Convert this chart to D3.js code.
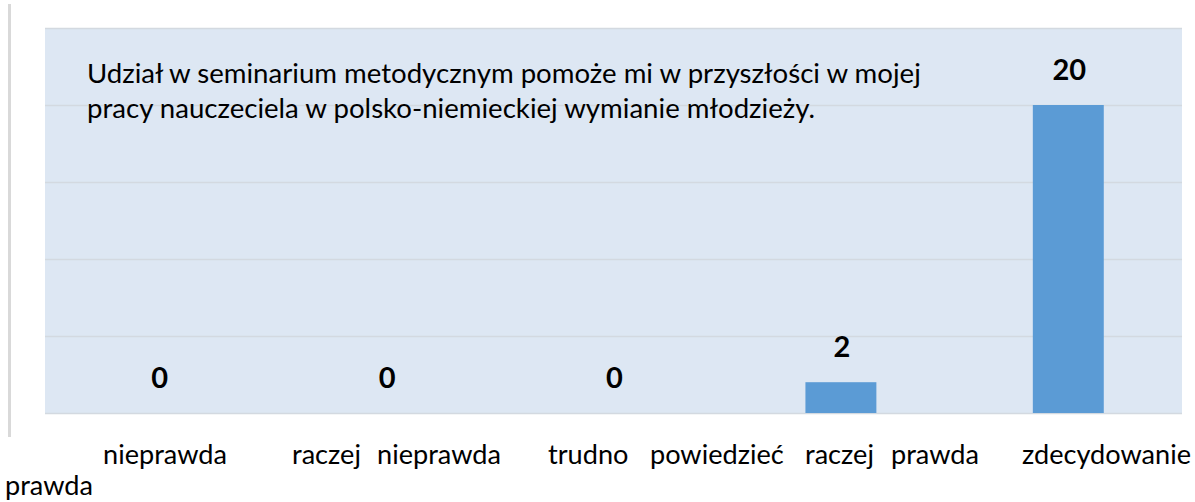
<!DOCTYPE html>
<html>
<head>
<meta charset="utf-8">
<script src="https://cdn.jsdelivr.net/npm/d3@7"></script>
<style>
  html, body { margin: 0; padding: 0; background: #ffffff; }
  svg { display: block; }
</style>
</head>
<body>
<svg id="chart" width="1195" height="502"></svg>
<script>
// ---- data ----
const categories = ["nieprawda", "raczej nieprawda", "trudno powiedzieć", "raczej prawda", "zdecydowanie prawda"];
const values = [0, 0, 0, 2, 20];
const yTicks = [0, 5, 10, 15, 20, 25];
const noteLines = [
  "Udział w seminarium metodycznym pomoże mi w przyszłości w mojej",
  "pracy nauczeciela w polsko-niemieckiej wymianie młodzieży."
];

// ---- layout ----
const W = 1195, H = 502;
const plot = { left: 45, right: 1182, top: 28, bottom: 413 };
const svg = d3.select("#chart");
const font = "Lato, 'Open Sans', sans-serif";

const x = d3.scaleBand().domain(categories).range([plot.left, plot.right]).paddingInner(0.688).paddingOuter(0.344);
const y = d3.scaleLinear().domain([0, 25]).range([plot.bottom, plot.top]);

// left decorative frame line
svg.append("rect").attr("x", 8).attr("y", 4).attr("width", 3).attr("height", 433).attr("fill", "#d9d9d9");

// plot background
svg.append("rect")
  .attr("x", plot.left).attr("y", plot.top)
  .attr("width", plot.right - plot.left).attr("height", plot.bottom - plot.top)
  .attr("fill", "#dde7f3");

// gridlines via axis
const grid = svg.append("g")
  .attr("transform", `translate(${plot.left},0)`)
  .call(d3.axisRight(y).tickValues(yTicks).tickSize(plot.right - plot.left).tickFormat(""));
grid.select(".domain").remove();
grid.selectAll(".tick line").attr("stroke", "#d3d9e0").attr("stroke-width", 1.5);

// bars
svg.append("g").selectAll("rect").data(values).join("rect")
  .attr("x", (d, i) => x(categories[i]))
  .attr("width", x.bandwidth())
  .attr("y", d => y(d))
  .attr("height", d => y(0) - y(d))
  .attr("fill", "#5b9bd5");

// data labels
svg.append("g").selectAll("text").data(values).join("text")
  .attr("x", (d, i) => x(categories[i]) + x.bandwidth() / 2 + 1)
  .attr("y", d => y(d) - 25)
  .attr("text-anchor", "middle")
  .attr("font-family", font)
  .attr("font-weight", "bold")
  .attr("font-size", 29)
  .attr("fill", "#000")
  .text(d => d);

// helper: fit font size to target width
function fitSize(str, target, weight) {
  const t = svg.append("text").attr("font-family", font).attr("font-size", 100)
    .attr("font-weight", weight || "normal").text(str);
  const w = t.node().getComputedTextLength();
  t.remove();
  return 100 * target / w;
}

// annotation text inside plot
const noteSize = fitSize(noteLines[0], 834);
svg.append("g").selectAll("text").data(noteLines).join("text")
  .attr("x", 87)
  .attr("y", (d, i) => 83 + i * 35)
  .attr("font-family", font)
  .attr("font-size", noteSize)
  .attr("fill", "#000")
  .text(d => d);

// category labels, laid out like a justified paragraph under the chart
const labelWords = [
  { w: "nieprawda", x: 103, row: 0 },
  { w: "raczej", x: 292, row: 0 },
  { w: "nieprawda", x: 377, row: 0 },
  { w: "trudno", x: 548, row: 0 },
  { w: "powiedzieć", x: 650, row: 0 },
  { w: "raczej", x: 805, row: 0 },
  { w: "prawda", x: 891, row: 0 },
  { w: "zdecydowanie", x: 1022, row: 0 },
  { w: "prawda", x: 5, row: 1 }
];
const labSize = fitSize("nieprawda", 124);
svg.append("g").selectAll("text").data(labelWords).join("text")
  .attr("x", d => d.x)
  .attr("y", d => 464 + d.row * 31)
  .attr("font-family", font)
  .attr("font-size", labSize)
  .attr("fill", "#000")
  .text(d => d.w);
</script>
</body>
</html>
